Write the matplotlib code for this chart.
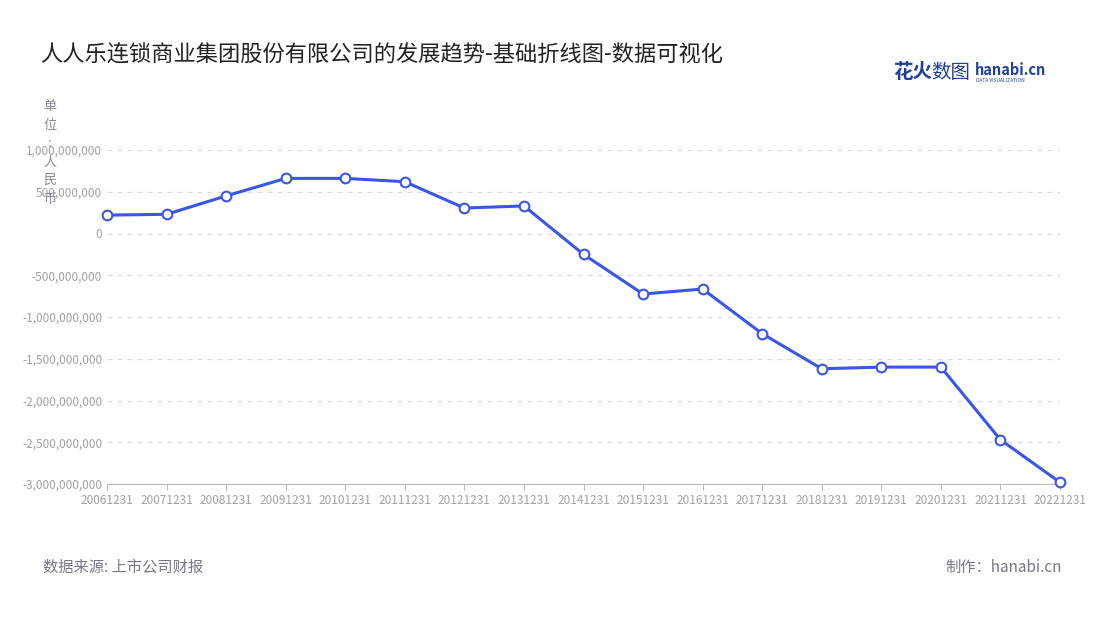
import matplotlib
matplotlib.use("Agg")
import matplotlib.pyplot as plt
from matplotlib.ticker import FuncFormatter

plt.rcParams['font.family'] = ['Noto Sans CJK SC', 'DejaVu Sans']

dates = ["20061231","20071231","20081231","20091231","20101231","20111231","20121231","20131231",
         "20141231","20151231","20161231","20171231","20181231","20191231","20201231","20211231","20221231"]
values = [2.2e8, 2.3e8, 4.5e8, 6.6e8, 6.6e8, 6.2e8, 3.05e8, 3.3e8, -2.5e8, -7.25e8, -6.65e8,
          -1.2e9, -1.62e9, -1.6e9, -1.6e9, -2.47e9, -2.98e9]

fig = plt.figure(figsize=(11, 6.2), dpi=100)
ax = fig.add_axes([107/1100, (620-484)/620, (1060-107)/1100, (484-150)/620])
x = list(range(len(dates)))
ax.plot(x, values, color='#3a56e8', lw=2.2, marker='o', ms=7, mfc='white', mec='#3a56e8', mew=1.5, zorder=3, clip_on=False)
ax.set_xlim(0, len(dates)-1)
ax.set_ylim(-3e9, 1e9)
ax.set_yticks([i*5e8 for i in range(-6, 3)])
ax.yaxis.set_major_formatter(FuncFormatter(lambda v, p: f"{int(v):,}"))
ax.set_xticks(x)
ax.set_xticklabels(dates)
ax.grid(axis='y', color='#dddddd', ls=(0, (4, 4)), lw=0.9)
for s in ['top', 'right']:
    ax.spines[s].set_visible(False)
ax.spines['left'].set_visible(False)
ax.spines['bottom'].set_color('#bbbbbb')
ax.tick_params(axis='both', colors='#bbbbbb', labelcolor='#a0a0a8', labelsize=8.5, length=4)
ax.tick_params(axis='y', length=0)

fig.text(40/1100, 1-55/620, "人人乐连锁商业集团股份有限公司的发展趋势-基础折线图-数据可视化", fontsize=16, color='#222222', va='center')
fig.text(50/1100, 1-153/620, "单\n位\n:\n人\n民\n币", fontsize=9.5, color='#888899', ha='center', va='center', linespacing=1.55)
fig.text(43/1100, 1-567/620, "数据来源: 上市公司财报", fontsize=11, color='#777788', va='center')
fig.text(1062/1100, 1-567/620, "制作：hanabi.cn", fontsize=11, color='#777788', va='center', ha='right')
fig.text(893/1100, 1-73/620, "花火", fontsize=14, color='#1f3f9e', weight='bold', va='center')
fig.text(931/1100, 1-73/620, "数图", fontsize=14, color='#1f3f9e', va='center')
fig.text(975/1100, 1-70/620, "hanabi.cn", fontsize=10.5, color='#1f3f9e', weight='bold', va='center')
fig.text(976/1100, 1-80/620, "DATA VISUALIZATION", fontsize=3.5, color='#1f3f9e', va='center')
fig.savefig("out.png", dpi=100)
